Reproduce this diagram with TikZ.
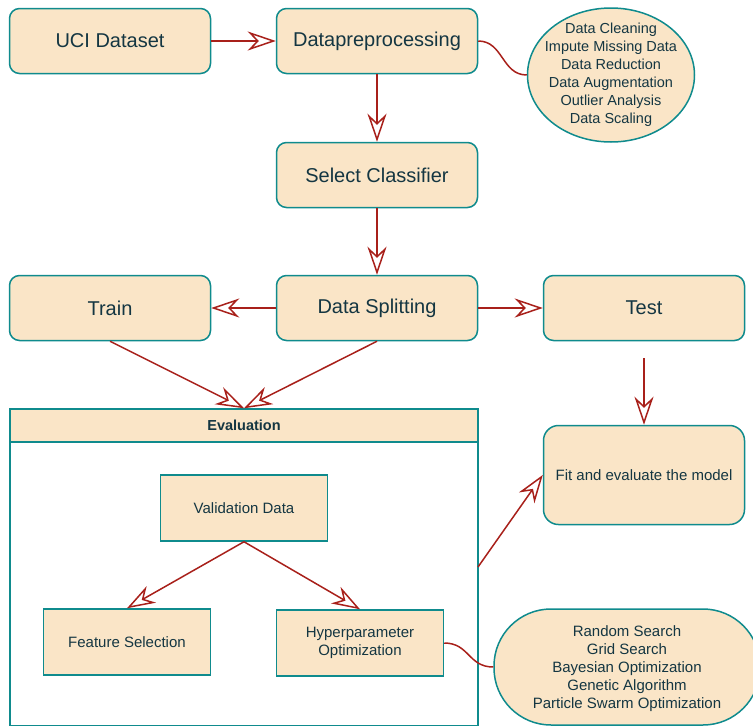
\documentclass[tikz,border=0pt]{standalone}
\usepackage{fontspec}
\setmainfont{Liberation Sans}
\usetikzlibrary{arrows.meta,shapes.geometric}
\definecolor{boxfill}{HTML}{FAE5C7}
\definecolor{boxline}{HTML}{0F8B8D}
\definecolor{arrline}{HTML}{A8201A}
\definecolor{txt}{HTML}{143642}

\begin{document}
\begin{tikzpicture}[x=1pt,y=-1pt,
  block/.style={draw=boxline,fill=boxfill,line width=1.5pt,rounded corners=10pt,
    minimum width=201pt,minimum height=65pt,text=txt,font=\fontsize{20}{24}\selectfont},
  sub/.style={draw=boxline,fill=boxfill,line width=1.5pt,minimum width=167pt,
    minimum height=66pt,text=txt,align=center,font=\fontsize{15}{18}\selectfont},
  flow/.style={draw=arrline,line width=1.5pt,
    -{Stealth[length=28pt,width=19pt,inset=9pt,fill=white]}},
  link/.style={draw=arrline,line width=1.5pt},
  list/.style={text=txt,align=center,font=\fontsize{14.5}{18}\selectfont}]
   \useasboundingbox (0,0) rectangle (753,726);

   % evaluation frame
   \path (244,567.5) node[draw=boxline,line width=1.5pt,minimum width=468pt,
     minimum height=317pt] (eval) {};
   \path (244,425.5) node[draw=boxline,fill=boxfill,line width=1.5pt,minimum width=468pt,
     minimum height=33pt,text=txt,font=\bfseries\fontsize{14.5}{17}\selectfont] (evalhead) {Evaluation};

   % main flow
   \path (110,41) node[block] (uci) {UCI Dataset};
   \path (377,41) node[block] (prep) {Datapreprocessing};
   \path (377,175) node[block] (clf) {Select Classifier};
   \path (110,308) node[block] (train) {Train};
   \path (377,308) node[block] (split) {Data Splitting};
   \path (644,308) node[block] (test) {Test};
   \path (644,475) node[block,rounded corners=15pt,minimum height=99pt,
     font=\fontsize{15}{18}\selectfont] (fit) {Fit and evaluate the model};

   % inside evaluation
   \path (244,508) node[sub] (val) {Validation Data};
   \path (127,642) node[sub] (feat) {Feature Selection};
   \path (360,643) node[sub] (hyp) {Hyperparameter\\Optimization};

   % lists
   \path (611,75) node[ellipse,draw=boxline,fill=boxfill,line width=1.5pt,
     minimum width=167pt,minimum height=134pt,inner sep=0pt] (clean) {};
   \path (clean) node[list] {Data Cleaning\\Impute Missing Data\\Data Reduction\\
     Data Augmentation\\Outlier Analysis\\Data Scaling};
   \path (627,667) node[draw=boxline,fill=boxfill,line width=1.5pt,rounded corners=57pt,
     minimum width=266pt,minimum height=116pt] (search) {};
   \path (627,669) node[list,font=\fontsize{15}{18}\selectfont] {Random Search\\Grid Search\\
     Bayesian Optimization\\Genetic Algorithm\\Particle Swarm Optimization};

   \coordinate (testout) at (644,358);
   \coordinate (evalout) at (478,567);

   % connectors
   \draw[flow] (uci) -- (prep);
   \draw[flow] (prep) -- (clf);
   \draw[flow] (clf) -- (split);
   \draw[flow] (split) -- (train);
   \draw[flow] (split) -- (test);
   \draw[flow] (train.south) -- (evalhead.north);
   \draw[flow] (split.south) -- (evalhead.north);
   \draw[flow] (testout) -- (fit.north);
   \draw[flow] (evalout) -- (fit.west);
   \draw[flow] (val.south) -- (feat.north);
   \draw[flow] (val.south) -- (hyp.north);
   \draw[link] (prep.east) .. controls +(25,0) and +(-25,0) .. (clean.west);
   \draw[link] (hyp.east) .. controls +(25,0) and +(-25,0) .. (search.west);
\end{tikzpicture}
\end{document}
